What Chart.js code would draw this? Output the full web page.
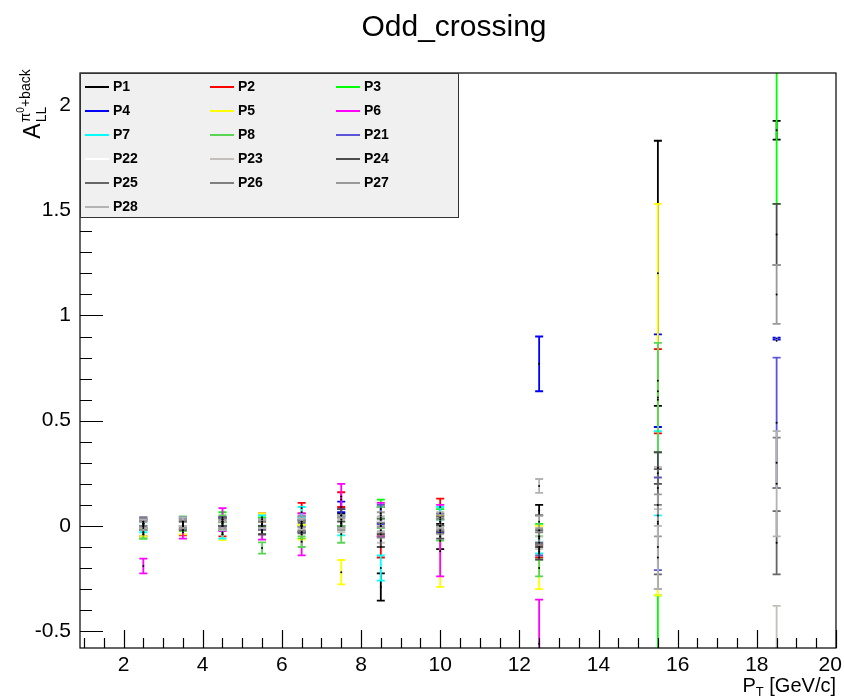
<!DOCTYPE html>
<html>
<head>
<meta charset="utf-8">
<title>Odd_crossing</title>
<script src="https://cdn.jsdelivr.net/npm/chart.js@4.4.1/dist/chart.umd.min.js"></script>
<style>
body { margin: 0; background: #fff; }
#wrap { position: relative; width: 844px; height: 700px; font-family: "Liberation Sans", Arial, sans-serif; color: #000; }
#chart { position: absolute; left: 0; top: 0; }
#title { position: absolute; left: 254px; top: 9px; width: 400px; text-align: center; font-size: 30px; }
#ytitle { position: absolute; left: 32px; top: 104px; transform: translate(-50%, -50%) rotate(-90deg); white-space: nowrap; font-size: 23px; display: flex; align-items: center; }
#ytitle .stack { display: inline-flex; flex-direction: column; line-height: 1; margin-left: 1px; }
#ytitle .sup { font-size: 14px; }
#ytitle .sup sup { font-size: 10px; vertical-align: 6px; }
#ytitle .sub { font-size: 14px; margin-top: 2px; }
#xtitle { position: absolute; right: 8px; top: 674px; font-size: 20px; white-space: nowrap; }
#xtitle sub { font-size: 13px; vertical-align: -4px; }
#legend { position: absolute; left: 80px; top: 73px; width: 377px; height: 143px; background: #f0f0f0; border: 1.5px solid #333; }
#legend .item { position: absolute; font-size: 14px; font-weight: bold; line-height: 16px; }
#legend .line { position: absolute; width: 24px; height: 0; border-top: 2px solid; }
</style>
</head>
<body>
<div id="wrap">
  <canvas id="chart" width="844" height="700"></canvas>
  <div id="title">Odd_crossing</div>
  <div id="ytitle"><span>A</span><span class="stack"><span class="sup">π<sup>0</sup>+back</span><span class="sub">LL</span></span></div>
  <div id="xtitle">P<sub>T</sub> [GeV/c]</div>
  <div id="legend"></div>
</div>
<script>
// bin centres (pT)
const pt = [2.5, 3.5, 4.5, 5.5, 6.5, 7.5, 8.5, 10, 12.5, 15.5, 18.5];

const names = ['P1', 'P2', 'P3', 'P4', 'P5', 'P6', 'P7', 'P8', 'P21', 'P22', 'P23', 'P24', 'P25', 'P26', 'P27', 'P28'];
const colors = ['#000000', '#ff0000', '#00ff00', '#0000ff', '#ffff00', '#ff00ff', '#00ffff', '#59d454',
                '#5954d9', '#ffffff', '#c4bfba', '#4c4c4c', '#666666', '#7f7f7f', '#999999', '#b3b3b3'];

// A_LL values and errors
const P1 = [0.01, 0.00, 0.02, -0.02, 0.00, 0.03, -0.29, -0.05, 0.075, 1.20, 1.88];
const P1err = [0.02, 0.02, 0.02, 0.02, 0.03, 0.03, 0.065, 0.06, 0.025, 0.63, 0.045];
const P2 = [-0.03, -0.03, -0.03, 0.04, 0.085, 0.125, -0.10, 0.09, -0.12, 0.64, -1.00];
const P2err = [0.02, 0.015, 0.02, 0.02, 0.025, 0.035, 0.05, 0.04, 0.03, 0.20, 0.30];
const P3 = [-0.04, 0.02, 0.04, 0.02, -0.03, 0.05, 0.08, 0.04, -0.02, -0.72, 2.30];
const P3err = [0.02, 0.02, 0.025, 0.02, 0.03, 0.03, 0.045, 0.04, 0.03, 0.39, 0.77];
const P4 = [0.01, 0.02, 0.02, 0.00, 0.02, 0.09, 0.05, 0.00, 0.77, 0.69, 0.89];
const P4err = [0.02, 0.02, 0.02, 0.02, 0.025, 0.025, 0.04, 0.03, 0.13, 0.22, 0.005];
const P5 = [-0.03, -0.02, -0.04, 0.04, -0.03, -0.22, 0.03, -0.12, -0.15, 0.60, -1.00];
const P5err = [0.02, 0.02, 0.027, 0.02, 0.035, 0.058, 0.07, 0.17, 0.15, 0.93, 0.30];
const P6 = [-0.19, -0.02, 0.03, -0.03, -0.04, 0.14, 0.03, -0.07, -0.56, -1.20, -1.50];
const P6err = [0.035, 0.04, 0.055, 0.035, 0.10, 0.06, 0.08, 0.17, 0.21, 0.40, 0.50];
const P7 = [-0.01, 0.00, -0.04, 0.03, 0.065, 0.00, -0.20, 0.06, -0.10, 0.25, -0.90];
const P7err = [0.02, 0.02, 0.02, 0.02, 0.025, 0.045, 0.06, 0.03, 0.03, 0.20, 0.25];
const P8 = [-0.04, 0.01, 0.03, -0.105, -0.075, -0.04, 0.04, -0.02, -0.20, 0.61, -1.10];
const P8err = [0.02, 0.035, 0.02, 0.027, 0.025, 0.04, 0.05, 0.05, 0.04, 0.26, 0.30];
const P21 = [0.02, 0.02, 0.02, 0.01, 0.00, 0.02, 0.06, 0.02, -0.11, 0.01, 0.49];
const P21err = [0.02, 0.02, 0.02, 0.02, 0.03, 0.03, 0.04, 0.04, 0.03, 0.22, 0.31];
const P22 = [0.00, 0.01, 0.00, 0.00, 0.01, 0.00, 0.00, 0.00, -0.05, 0.10, 0.88];
const P22err = [0.01, 0.01, 0.01, 0.01, 0.015, 0.015, 0.02, 0.02, 0.02, 0.04, 0.07];
const P23 = [0.01, 0.00, 0.00, 0.01, 0.00, 0.00, -0.04, 0.00, -0.08, 0.18, -0.60];
const P23err = [0.02, 0.02, 0.02, 0.02, 0.025, 0.03, 0.04, 0.04, 0.03, 0.10, 0.22];
const P24 = [0.00, 0.01, 0.00, -0.02, 0.00, 0.05, -0.07, -0.03, -0.13, 0.275, 1.385];
const P24err = [0.02, 0.02, 0.02, 0.02, 0.025, 0.03, 0.03, 0.03, 0.03, 0.075, 0.145];
const P25 = [0.01, 0.00, 0.02, 0.01, -0.01, 0.02, 0.00, 0.01, -0.05, 0.02, -0.08];
const P25err = [0.02, 0.02, 0.02, 0.02, 0.025, 0.03, 0.035, 0.035, 0.03, 0.25, 0.15];
const P26 = [0.02, 0.01, 0.01, 0.00, 0.00, 0.01, -0.02, 0.00, -0.06, -0.10, 0.30];
const P26err = [0.02, 0.02, 0.02, 0.02, 0.025, 0.03, 0.035, 0.035, 0.03, 0.20, 0.12];
const P27 = [0.00, 0.01, 0.01, 0.01, 0.02, 0.01, 0.03, 0.02, 0.02, 0.05, 1.10];
const P27err = [0.02, 0.02, 0.02, 0.02, 0.025, 0.03, 0.035, 0.035, 0.03, 0.10, 0.14];
const P28 = [0.01, 0.02, 0.00, 0.01, 0.01, 0.02, 0.01, 0.03, 0.19, -0.15, 0.20];
const P28err = [0.02, 0.02, 0.02, 0.02, 0.025, 0.03, 0.035, 0.035, 0.033, 0.15, 0.25];

const values = [P1, P2, P3, P4, P5, P6, P7, P8, P21, P22, P23, P24, P25, P26, P27, P28];
const errors = [P1err, P2err, P3err, P4err, P5err, P6err, P7err, P8err, P21err, P22err, P23err, P24err, P25err, P26err, P27err, P28err];

const xTicks = [2, 4, 6, 8, 10, 12, 14, 16, 18, 20];
const yTicks = [-0.5, 0, 0.5, 1, 1.5, 2];

// legend (3 columns, ROOT style)
const legend = document.getElementById('legend');
names.forEach((name, i) => {
    const col = i % 3;
    const row = Math.floor(i / 3);
    const lx = [4, 129, 255][col];
    const ly = 12 + row * 24;
    const line = document.createElement('div');
    line.className = 'line';
    line.style.left = lx + 'px';
    line.style.top = ly + 'px';
    line.style.borderTopColor = colors[i];
    legend.appendChild(line);
    const item = document.createElement('div');
    item.className = 'item';
    item.style.left = (lx + 28) + 'px';
    item.style.top = (ly - 8) + 'px';
    item.textContent = name;
    legend.appendChild(item);
});

// vertical error bars with caps, drawn before the markers
const errorBars = {
    id: 'errorBars',
    beforeDatasetsDraw(chart) {
        const { ctx, chartArea, scales: { x, y } } = chart;
        ctx.save();
        ctx.beginPath();
        ctx.rect(chartArea.left, chartArea.top, chartArea.right - chartArea.left, chartArea.bottom - chartArea.top);
        ctx.clip();
        ctx.lineWidth = 1.8;
        chart.data.datasets.forEach(ds => {
            ctx.strokeStyle = ds.borderColor;
            ds.data.forEach((p, i) => {
                const px = x.getPixelForValue(p.x);
                const top = y.getPixelForValue(p.y + ds.errors[i]);
                const bot = y.getPixelForValue(p.y - ds.errors[i]);
                ctx.beginPath();
                ctx.moveTo(px, top);
                ctx.lineTo(px, bot);
                ctx.moveTo(px - 4, top);
                ctx.lineTo(px + 4, top);
                ctx.moveTo(px - 4, bot);
                ctx.lineTo(px + 4, bot);
                ctx.stroke();
            });
        });
        ctx.restore();
    }
};

// frame and inward tick marks
const frameTicks = {
    id: 'frameTicks',
    afterDraw(chart) {
        const { ctx, chartArea: { left, right, top, bottom }, scales: { x, y } } = chart;
        ctx.save();
        ctx.strokeStyle = '#000';
        ctx.lineWidth = 1.2;
        ctx.strokeRect(left, top, right - left, bottom - top);
        ctx.beginPath();
        for (let v = -0.5; v <= 2.1; v += 0.1) {
            const yy = Math.round(y.getPixelForValue(v)) + 0.5;
            const major = Math.abs(v * 2 - Math.round(v * 2)) < 1e-6;
            ctx.moveTo(left, yy);
            ctx.lineTo(left + (major ? 23 : 12), yy);
        }
        for (let v = 1; v <= 20; v += 0.5) {
            const xx = Math.round(x.getPixelForValue(v)) + 0.5;
            const major = v % 2 === 0;
            ctx.moveTo(xx, bottom);
            ctx.lineTo(xx, bottom - (major ? 18 : 10));
        }
        ctx.stroke();
        ctx.restore();
    }
};

const tickFont = { family: '"Liberation Sans", Arial, sans-serif', size: 21 };

// last label sits at the frame edge: pad it so it stays inside the page
const xLabel = v => v === 20 ? '20\u2007' : String(v);

new Chart(document.getElementById('chart'), {
    type: 'scatter',
    data: {
        datasets: names.map((name, i) => ({
            label: name,
            data: pt.map((p, j) => ({ x: p, y: values[i][j] })),
            errors: errors[i],
            borderColor: colors[i],
            pointBackgroundColor: '#000',
            pointBorderWidth: 0,
            pointRadius: 1,
            showLine: false
        }))
    },
    options: {
        responsive: false,
        animation: false,
        layout: { padding: { top: 73, right: 8, left: 0, bottom: 0 } },
        plugins: {
            legend: { display: false },
            title: { display: false },
            tooltip: { enabled: false }
        },
        scales: {
            x: {
                type: 'linear',
                min: 0.9,
                max: 20,
                grid: { display: false, drawTicks: false },
                border: { display: false },
                afterBuildTicks: s => { s.ticks = xTicks.map(v => ({ value: v })); },
                afterFit: s => { s.height = 52; s.paddingLeft = 0; s.paddingRight = 0; },
                ticks: { color: '#000', font: tickFont, padding: 5, maxRotation: 0, autoSkip: false, callback: xLabel }
            },
            y: {
                type: 'linear',
                min: -0.58,
                max: 2.152,
                grid: { display: false, drawTicks: false },
                border: { display: false },
                afterBuildTicks: s => { s.ticks = yTicks.map(v => ({ value: v })); },
                afterFit: s => { s.width = 80; },
                ticks: { color: '#000', font: tickFont, padding: 9, autoSkip: false, callback: v => String(v) }
            }
        }
    },
    plugins: [errorBars, frameTicks]
});
</script>
</body>
</html>
